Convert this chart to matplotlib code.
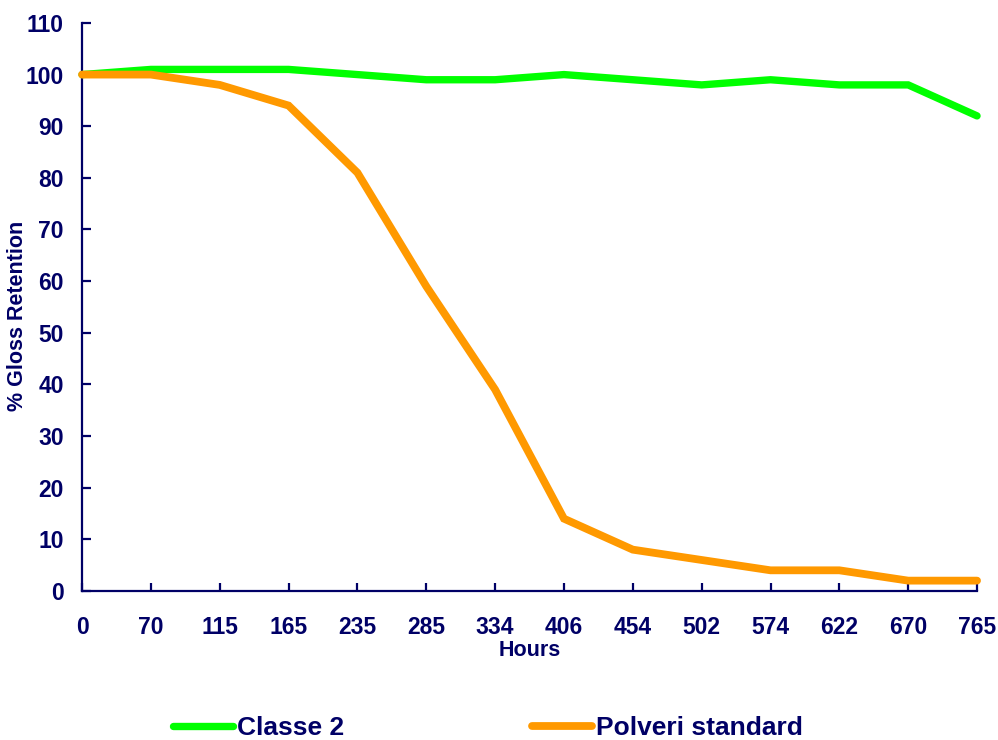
import numpy as np                  # Maths library
import matplotlib
matplotlib.use('Agg')
import matplotlib.pyplot as plt     # Plotting library

## Data
hours = ['0', '70', '115', '165', '235', '285', '334', '406',
         '454', '502', '574', '622', '670', '765']
classe_2 = [100, 101, 101, 101, 100, 99, 99, 100, 99, 98, 99, 98, 98, 92]
polveri_standard = [100, 100, 98, 94, 81, 59, 39, 14, 8, 6, 4, 4, 2, 2]

navy = '#000066'
plt.rcParams['font.family'] = ['Liberation Sans', 'DejaVu Sans']
plt.rcParams['font.weight'] = 'bold'

fig = plt.figure(figsize=(9.98, 7.40), dpi=100)
ax = fig.add_axes([0.0822, 0.2014, 0.8968, 0.7676])

x = np.arange(len(hours))
ax.plot(x, classe_2, color='#00FF00', lw=5.3, solid_capstyle='round',
        solid_joinstyle='miter', label='Classe 2', clip_on=False, zorder=3)
ax.plot(x, polveri_standard, color='#FF9900', lw=5.6, solid_capstyle='round',
        solid_joinstyle='miter', label='Polveri standard', clip_on=False, zorder=4)

## Format axes
ax.set_xlim(0, len(hours) - 1)
ax.set_ylim(0, 110)
ax.set_xticks(x)
ax.set_xticklabels(hours)
ax.set_yticks(np.arange(0, 111, 10))

for side in ['top', 'right']:
    ax.spines[side].set_visible(False)
for side in ['left', 'bottom']:
    ax.spines[side].set_color(navy)
    ax.spines[side].set_linewidth(1.6)

ax.tick_params(axis='y', direction='in', length=6.5, width=1.6, color=navy,
               labelcolor=navy, labelsize=16.5, pad=13)
ax.tick_params(axis='x', direction='in', length=6, width=1.6, color=navy,
               labelcolor=navy, labelsize=16.5, pad=18)
for lab in ax.get_xticklabels() + ax.get_yticklabels():
    lab.set_fontweight('bold')

ax.set_xlabel('Hours', color=navy, fontsize=15.5, fontweight='bold', labelpad=1)
ax.set_ylabel('% Gloss Retention', color=navy, fontsize=15.5, fontweight='bold')
ax.yaxis.set_label_coords(-0.060, 0.484)

## Legend below the plot
leg = fig.legend(loc='lower center', bbox_to_anchor=(0.489, -0.032), ncol=2,
                 frameon=False, fontsize=19, handlelength=2.25,
                 handletextpad=0.15, columnspacing=7.15)
for t in leg.get_texts():
    t.set_color(navy)
    t.set_fontweight('bold')

fig.savefig('out.png', dpi=100)
